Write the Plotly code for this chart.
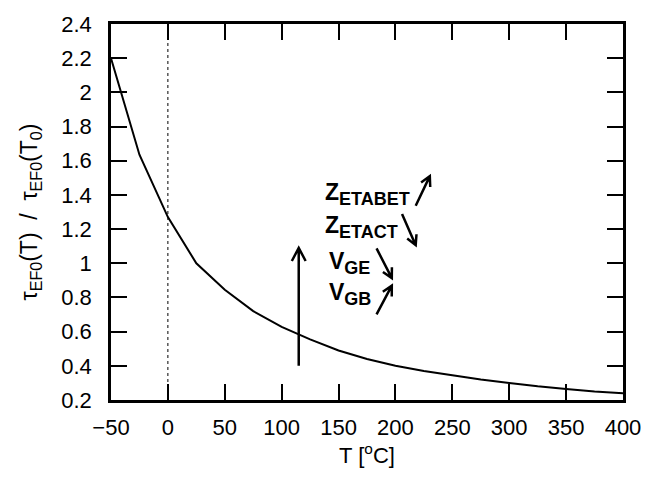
import math
import plotly.graph_objects as go

# Normalised emission-time ratio versus temperature
temperature = [-50, -25, 0, 25, 50, 75, 100, 125, 150, 175, 200, 225, 250, 275, 300, 325, 350, 375, 400]
tau_ratio = [2.2, 1.635, 1.27, 1.0, 0.845, 0.72, 0.628, 0.555, 0.49, 0.44, 0.40, 0.37, 0.345, 0.32, 0.30,
             0.28, 0.265, 0.25, 0.24]

y_tick_vals = [0.2, 0.4, 0.6, 0.8, 1.0, 1.2, 1.4, 1.6, 1.8, 2.0, 2.2, 2.4]
y_tick_text = ["0.2", "0.4", "0.6", "0.8", "1", "1.2", "1.4", "1.6", "1.8", "2", "2.2", "2.4"]
x_tick_vals = [-50, 0, 50, 100, 150, 200, 250, 300, 350, 400]

# Parameter labels: (symbol, subscript, x, y) in data units
param_labels = [
    ("Z", "ETABET", 136, 1.405),
    ("Z", "ETACT", 136, 1.21),
    ("V", "GE", 140, 1.0),
    ("V", "GB", 140, 0.82),
]
# Trend arrows: (x_start, y_start, x_end, y_end, head_len_px, width)
trend_arrows = [
    (115, 0.40, 115, 1.09, 15, 2.5),
    (217.8, 1.337, 230.2, 1.51, 11, 2.5),
    (205.8, 1.289, 217.8, 1.106, 11, 2.5),
    (183.4, 1.087, 196.8, 0.913, 11, 2.5),
    (183.4, 0.701, 196.8, 0.869, 11, 2.5),
]

W, H = 653, 477
M = dict(l=111, r=20, t=21, b=77)
x_range = [-50, 400]
y_range = [0.2, 2.4]
sx = (W - M["l"] - M["r"]) / (x_range[1] - x_range[0])
sy = (H - M["t"] - M["b"]) / (y_range[1] - y_range[0])

FONT = "Liberation Sans, Arial, sans-serif"

fig = go.Figure()
fig.add_trace(go.Scatter(x=temperature, y=tau_ratio, mode="lines",
                         line=dict(color="black", width=2), showlegend=False))

shapes = [dict(type="line", xref="x", yref="y", x0=0, x1=0, y0=y_range[0], y1=y_range[1],
               line=dict(color="black", width=1, dash="dot"), layer="below")]

# Arrows with open V-shaped heads, built in pixel space then mapped back to data units
for x0, y0, x1, y1, hl, w in trend_arrows:
    dx = (x1 - x0) * sx
    dy = -(y1 - y0) * sy
    L = math.hypot(dx, dy)
    ux, uy = dx / L, dy / L
    ang = math.radians(28)
    pts = []
    for s in (1, -1):
        ca, sa = math.cos(s * ang), math.sin(s * ang)
        bx = -(ux * ca - uy * sa) * hl
        by = -(ux * sa + uy * ca) * hl
        pts.append((x1 + bx / sx, y1 - by / sy))
    path = (f"M{x0},{y0} L{x1},{y1} "
            f"M{pts[0][0]},{pts[0][1]} L{x1},{y1} L{pts[1][0]},{pts[1][1]}")
    shapes.append(dict(type="path", xref="x", yref="y", path=path,
                       line=dict(color="black", width=w)))

annotations = []
for main, sub, x, y in param_labels:
    annotations.append(dict(
        x=x, y=y, xref="x", yref="y", xanchor="left", yanchor="middle", showarrow=False,
        text=f"<b>{main}<sub><span style='font-size:18px'>{sub}</span></sub></b>",
        font=dict(family=FONT, size=23, color="black")))

axis_common = dict(showline=True, linecolor="black", linewidth=2.5, mirror="allticks",
                   ticks="inside", ticklen=16, tickwidth=2, tickcolor="black",
                   showgrid=False, zeroline=False,
                   tickfont=dict(family=FONT, size=22, color="black"))

fig.update_layout(
    width=W, height=H, margin=M,
    paper_bgcolor="white", plot_bgcolor="white",
    shapes=shapes, annotations=annotations,
    xaxis=dict(range=x_range, tickvals=x_tick_vals, ticklabelstandoff=6,
               title=dict(text="T [<sup>o</sup>C]", font=dict(family=FONT, size=22, color="black"),
                          standoff=8),
               **axis_common),
    yaxis=dict(range=y_range, tickvals=y_tick_vals, ticktext=y_tick_text, ticklabelstandoff=12,
               title=dict(text="τ<sub>EF0</sub>(T)\u00a0\u00a0/\u00a0\u00a0τ<sub>EF0</sub>(T<sub>0</sub>)",
                          font=dict(family=FONT, size=23, color="black"), standoff=18),
               **axis_common),
)

fig.write_html("out.html")
